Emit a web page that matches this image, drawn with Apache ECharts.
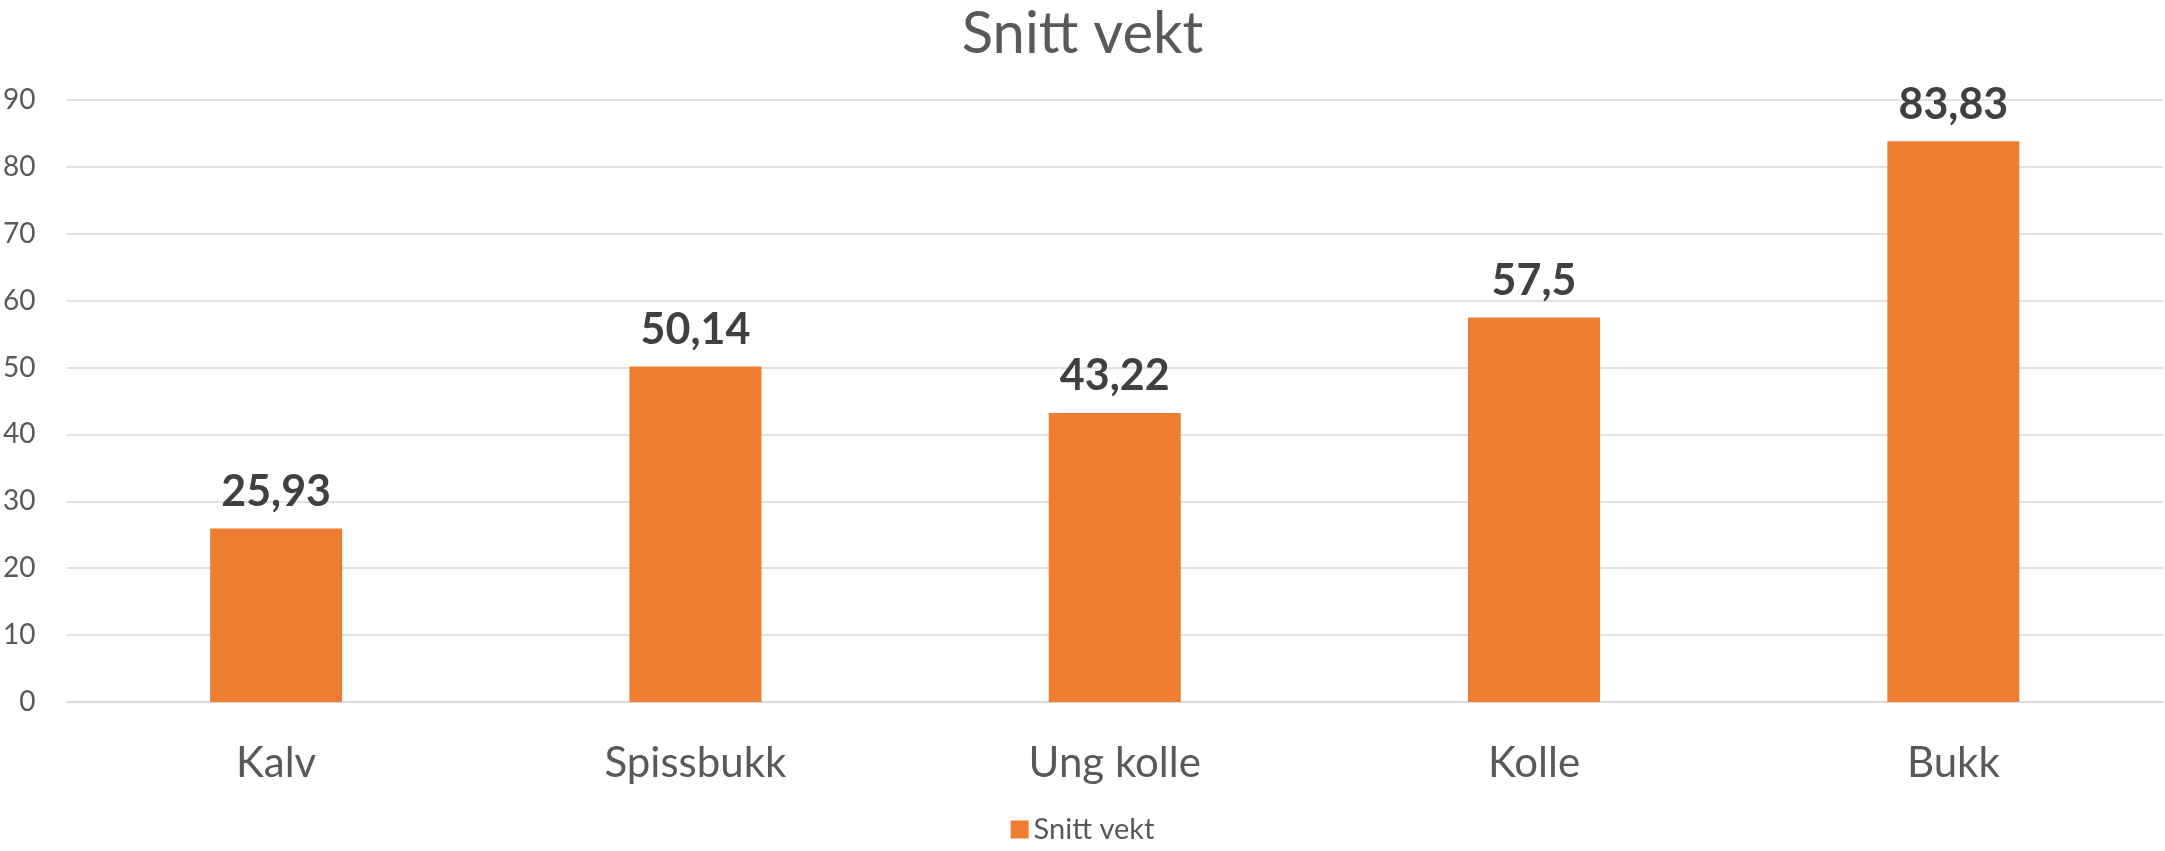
<!DOCTYPE html>
<html>
<head>
<meta charset="utf-8">
<script src="https://cdn.jsdelivr.net/npm/echarts@6/dist/echarts.min.js"></script>
<style>
  html, body { margin: 0; padding: 0; background: #fff; }
  #chart { width: 2165px; height: 851px; }
</style>
</head>
<body>
<div id="chart"></div>
<script>
var categories = ["Kalv", "Spissbukk", "Ung kolle", "Kolle", "Bukk"];
var snittVekt = [25.93, 50.14, 43.22, 57.5, 83.83];
var seriesName = "Snitt vekt";

var chart = echarts.init(document.getElementById("chart"));
var font = "Lato, 'Open Sans', sans-serif";

var option = {
  backgroundColor: "#fff",
  animation: false,
  textStyle: { fontFamily: font },
  title: {
    text: "Snitt vekt",
    left: "center",
    top: 0,
    textStyle: { fontFamily: font, fontSize: 58, fontWeight: "normal", color: "#595959" }
  },
  legend: {
    bottom: 2,
    left: "center",
    itemWidth: 18,
    itemHeight: 18,
    itemGap: 10,
    icon: "rect",
    textStyle: { fontFamily: font, fontSize: 29, color: "#595959" },
    data: [seriesName]
  },
  grid: {
    left: 64,
    right: 2,
    top: 100,
    bottom: 149
  },
  xAxis: {
    type: "category",
    data: categories,
    axisLine: { show: true, lineStyle: { color: "#D9D9D9", width: 1.5 } },
    axisTick: { show: false },
    axisLabel: {
      color: "#595959",
      fontSize: 42,
      fontFamily: font,
      margin: 40,
      lineHeight: 42
    }
  },
  yAxis: {
    type: "value",
    min: 0,
    max: 90,
    interval: 10,
    axisLine: { show: false },
    axisTick: { show: false },
    axisLabel: { color: "#595959", fontSize: 28, fontFamily: font, margin: 31 },
    splitLine: { lineStyle: { color: "#D9D9D9", width: 1.5 } }
  },
  series: [
    {
      name: seriesName,
      type: "bar",
      barWidth: 132,
      data: snittVekt,
      itemStyle: { color: "#ED7D31" },
      label: {
        show: true,
        position: "top",
        distance: 15,
        fontFamily: font,
        fontSize: 43,
        fontWeight: "bold",
        color: "#404040",
        formatter: function (p) {
          return String(p.value).replace(".", ",");
        }
      }
    }
  ]
};

chart.setOption(option);
window.addEventListener("resize", function () {
  chart.resize();
});
</script>
</body>
</html>
